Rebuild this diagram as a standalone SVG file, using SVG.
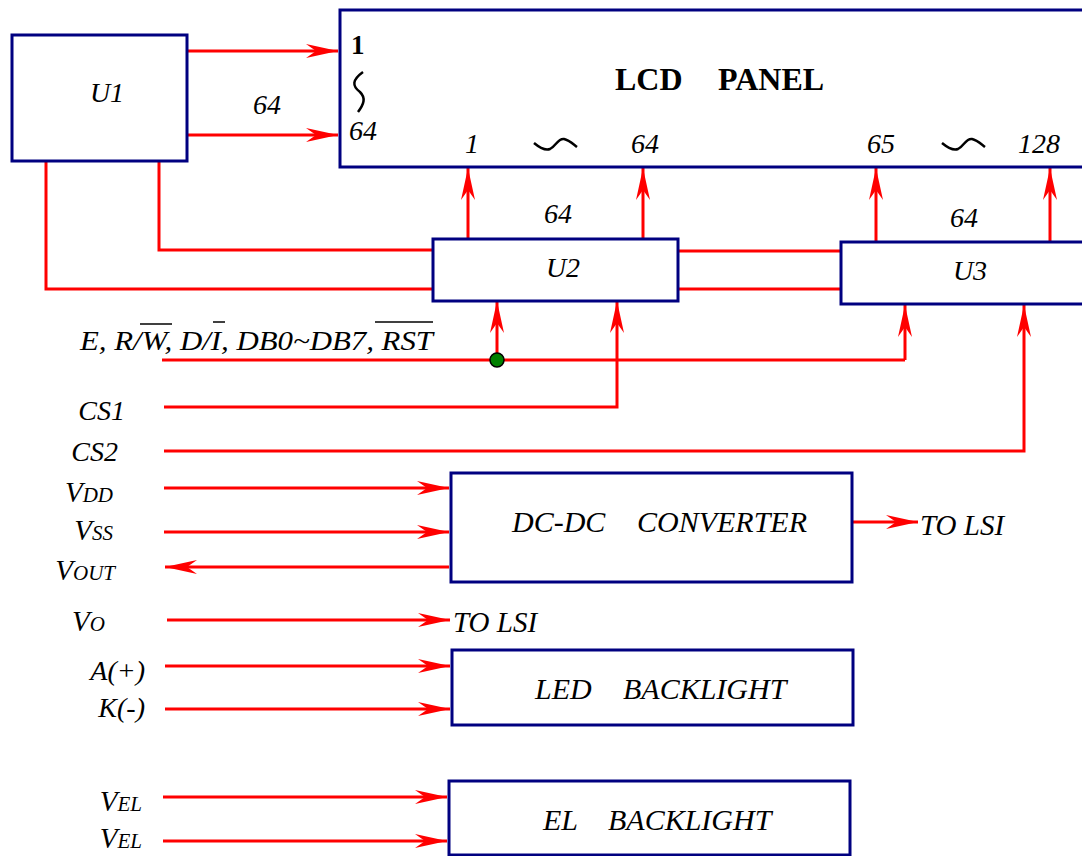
<svg xmlns="http://www.w3.org/2000/svg" width="1082" height="856" viewBox="0 0 1082 856">
<style>
.box{fill:#fff;stroke:#000080;stroke-width:3}
.w{fill:none;stroke:#ff0000;stroke-width:3}
.a{marker-end:url(#arr)}
.t{font-family:"Liberation Serif","Times New Roman",serif;font-style:italic;fill:#000;font-size:28px}
.L{font-size:30px}
.v{font-size:29px}
.b{font-family:"Liberation Serif","Times New Roman",serif;font-weight:bold;fill:#000}
.s{font-size:21px}
.sq{fill:none;stroke:#000;stroke-width:2.5}
.ov{stroke:#000;stroke-width:1.5}
</style>
<defs>
<marker id="arr" viewBox="-33 -8 34 16" refX="0" refY="0" markerWidth="34" markerHeight="16" markerUnits="userSpaceOnUse" orient="auto">
<path d="M0,0 L-32,-7 L-22,0 L-32,7 Z" fill="#ff0000"/>
</marker>
</defs>
<rect width="1082" height="856" fill="#fff"/>

<g id="connectors">
<path class="w a" d="M187,51 H338"/>
<path class="w a" d="M187,135 H338"/>
<path class="w" d="M46,161 V289 H433"/>
<path class="w" d="M159,161 V250 H433"/>
<path class="w" d="M678,251 H841"/>
<path class="w" d="M678,289 H841"/>
<path class="w a" d="M468,239 V168"/>
<path class="w a" d="M643,239 V168"/>
<path class="w a" d="M876,242 V168"/>
<path class="w a" d="M1050,242 V168"/>
<path class="w" d="M162,360 H905"/>
<path class="w a" d="M905,360 V305"/>
<path class="w a" d="M497,360 V301"/>
<path class="w a" d="M164,407 H617 V301"/>
<path class="w a" d="M164,451 H1024 V305"/>
<path class="w a" d="M164,488 H449"/>
<path class="w a" d="M164,532 H449"/>
<path class="w a" d="M449,567 H165"/>
<path class="w a" d="M852,522 H918"/>
<path class="w a" d="M167,620 H450"/>
<path class="w a" d="M165,666 H450"/>
<path class="w a" d="M165,709 H450"/>
<path class="w a" d="M163,797 H447"/>
<path class="w a" d="M163,841 H447"/>
<circle cx="497" cy="360" r="7" fill="#008000" stroke="#000" stroke-width="1.5"/>
</g>

<g id="lcd-panel">
<rect class="box" x="340" y="10" width="760" height="157"/>
<text class="b" x="351" y="54" font-size="27">1</text>
<path class="sq" d="M363,72 C352,80 352,86 360,92 C366,98 364,104 358,112"/>
<text class="t" x="349" y="140">64</text>
<text class="b" x="615" y="90" font-size="32">LCD</text>
<text class="b" x="718" y="90" font-size="32">PANEL</text>
<text class="t" x="472" y="153" text-anchor="middle">1</text>
<path class="sq" d="M534,143 C540,148 545,151 550,149 C556,146 558,138 564,139 C569,140 573,144 577,147"/>
<text class="t" x="645" y="153" text-anchor="middle">64</text>
<text class="t" x="881" y="153" text-anchor="middle">65</text>
<path class="sq" d="M942,143 C948,148 953,151 958,149 C964,146 966,138 972,139 C977,140 981,144 985,147"/>
<text class="t" x="1039" y="153" text-anchor="middle">128</text>
</g>

<g id="u1">
<rect class="box" x="12" y="35" width="175" height="126"/>
<text class="t" x="107" y="102" text-anchor="middle">U1</text>
<text class="t" x="267" y="114" text-anchor="middle">64</text>
</g>

<g id="u2">
<rect class="box" x="433" y="239" width="245" height="62"/>
<text class="t" x="563" y="277" text-anchor="middle">U2</text>
<text class="t" x="558" y="223" text-anchor="middle">64</text>
</g>

<g id="u3">
<rect class="box" x="841" y="242" width="260" height="62"/>
<text class="t" x="970" y="280" text-anchor="middle">U3</text>
<text class="t" x="964" y="227" text-anchor="middle">64</text>
</g>

<g id="dcdc">
<rect class="box" x="451" y="473" width="401" height="109"/>
<text class="t L" x="512" y="532">DC-DC</text>
<text class="t L" x="637" y="532">CONVERTER</text>
<text class="t v" x="920" y="535">TO LSI</text>
</g>

<g id="led-backlight">
<rect class="box" x="452" y="650" width="401" height="75"/>
<text class="t L" x="535" y="699">LED</text>
<text class="t L" x="623" y="699">BACKLIGHT</text>
</g>

<g id="el-backlight">
<rect class="box" x="449" y="781" width="401" height="74"/>
<text class="t L" x="543" y="830">EL</text>
<text class="t L" x="608" y="830">BACKLIGHT</text>
</g>

<g id="signals">
<text class="t" x="80" y="350" textLength="353" lengthAdjust="spacingAndGlyphs">E, R/W, D/I, DB0~DB7, RST</text>
<line class="ov" x1="140" y1="324" x2="172" y2="324"/>
<line class="ov" x1="213" y1="322" x2="225" y2="322"/>
<line class="ov" x1="375" y1="322" x2="433" y2="322"/>
<text class="t" x="125" y="420" text-anchor="end">CS1</text>
<text class="t" x="118" y="461" text-anchor="end">CS2</text>
<text class="t v" x="113" y="502" text-anchor="end">V<tspan class="s">DD</tspan></text>
<text class="t v" x="113" y="540" text-anchor="end">V<tspan class="s">SS</tspan></text>
<text class="t v" x="115" y="580" text-anchor="end">V<tspan class="s">OUT</tspan></text>
<text class="t v" x="105" y="631" text-anchor="end">V<tspan class="s">O</tspan></text>
<text class="t v" x="453" y="632">TO LSI</text>
<text class="t" x="145" y="680" text-anchor="end">A(+)</text>
<text class="t" x="145" y="717" text-anchor="end">K(-)</text>
<text class="t v" x="142" y="811" text-anchor="end">V<tspan class="s">EL</tspan></text>
<text class="t v" x="142" y="848" text-anchor="end">V<tspan class="s">EL</tspan></text>
</g>
</svg>
